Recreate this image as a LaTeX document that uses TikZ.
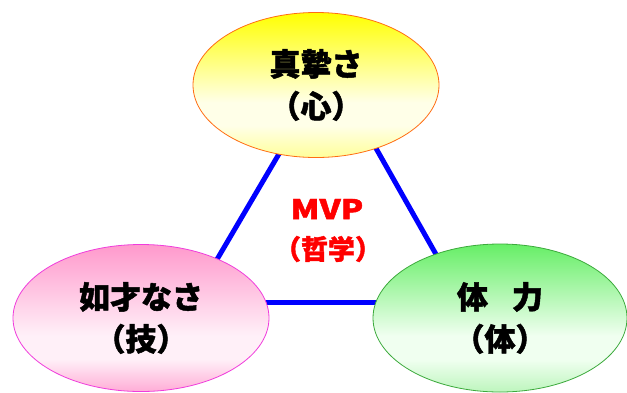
\documentclass[tikz,border=0pt]{standalone}
\usepackage{fontspec}
\newfontfamily\jp{Noto Sans CJK JP}[BoldFeatures={FakeBold=1.5}]
\usetikzlibrary{shapes.geometric}
\definecolor{triblue}{HTML}{0000FF}
\definecolor{mvpred}{HTML}{FF0000}
\definecolor{yelTop}{HTML}{FFFF00}
\definecolor{yelMid}{HTML}{FFFFE8}
\definecolor{yelBot}{HTML}{FFFF9A}
\definecolor{pinkTop}{HTML}{FF99CC}
\definecolor{pinkMid}{HTML}{FFF0F8}
\definecolor{pinkBot}{HTML}{FFADD6}
\definecolor{grnTop}{HTML}{66EE66}
\definecolor{grnMid}{HTML}{F0FFF0}
\definecolor{grnBot}{HTML}{BDF5BD}
\pgfdeclareverticalshading{yelshade}{100bp}{color(0bp)=(yelBot); color(25bp)=(yelBot); color(36bp)=(yelMid); color(44bp)=(yelMid); color(75bp)=(yelTop); color(100bp)=(yelTop)}
\pgfdeclareverticalshading{pinkshade}{100bp}{color(0bp)=(pinkBot); color(25bp)=(pinkBot); color(36bp)=(pinkMid); color(44bp)=(pinkMid); color(75bp)=(pinkTop); color(100bp)=(pinkTop)}
\pgfdeclareverticalshading{grnshade}{100bp}{color(0bp)=(grnBot); color(25bp)=(grnBot); color(36bp)=(grnMid); color(44bp)=(grnMid); color(75bp)=(grnTop); color(100bp)=(grnTop)}
\tikzset{
  oval/.style={ellipse, inner sep=0pt, line width=0.8pt, align=center,
    font=\jp\bfseries\fontsize{31}{42}\selectfont, text=black},
  side/.style={draw=triblue, line width=5pt},
}
\begin{document}
\begin{tikzpicture}[x=1pt,y=-1pt]
\useasboundingbox (0,0) rectangle (627,392);
\fill[white] (0,0) rectangle (627,392);
% triangle corners (hidden behind the ovals)
\coordinate (A) at (330,67);
\coordinate (B) at (192,302);
\coordinate (C) at (463,302);
\draw[side] (A) -- (B);
\draw[side] (A) -- (C);
\draw[side] (B) -- (C);
% ovals
\node[oval, draw={rgb,255:red,255;green,110;blue,20}, shading=yelshade,
  minimum width=246pt, minimum height=145pt] (kokoro) at (316,85) {真摯さ\\（心）};
\node[oval, draw={rgb,255:red,240;green,60;blue,220}, shading=pinkshade,
  minimum width=256pt, minimum height=147pt] (waza) at (141,318) {如才なさ\\（技）};
\node[oval, draw={rgb,255:red,60;green,170;blue,60}, shading=grnshade,
  minimum width=254pt, minimum height=148pt] (karada) at (500,318) {体\hspace{24pt}力\\（体）};
% centre label
\node[text=mvpred, font=\jp\bfseries] (mvp) at (327,209)
  {\fontsize{27}{30}\selectfont\scalebox{1.22}[1]{MVP}};
\node[text=mvpred, font=\jp\bfseries] (tetsu) at (328,249)
  {\fontsize{27}{30}\selectfont （哲学）};
\end{tikzpicture}
\end{document}
